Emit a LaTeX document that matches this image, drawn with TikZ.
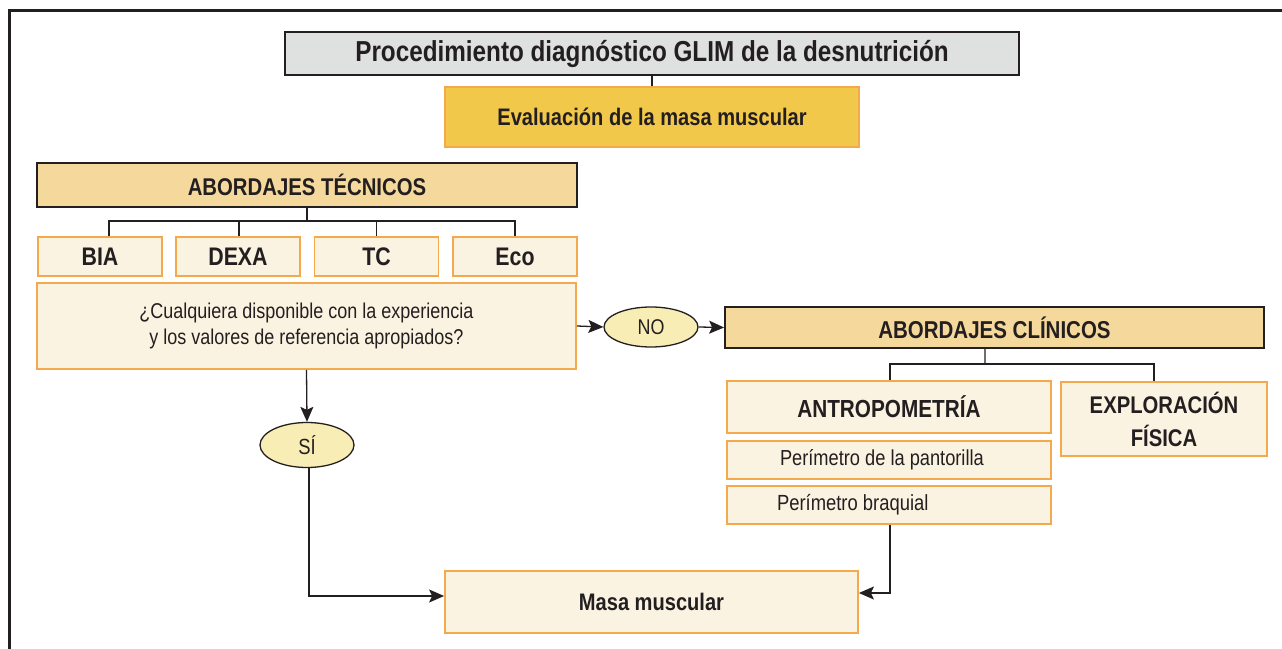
\documentclass[tikz,border=0pt]{standalone}
\usepackage{fontspec}
\setmainfont[FakeStretch=0.84]{Liberation Sans}
\usetikzlibrary{arrows.meta,shapes.geometric}
\definecolor{ink}{HTML}{231F20}
\definecolor{grayfill}{HTML}{DFE1E0}
\definecolor{evalfill}{HTML}{F2C84B}
\definecolor{tanfill}{HTML}{F5D89C}
\definecolor{creamfill}{HTML}{FBF3E1}
\definecolor{orangeline}{HTML}{F4A94C}
\definecolor{ovalfill}{HTML}{F8EDB4}
\tikzset{
  darkbox/.style={draw=ink, line width=1.8bp, rectangle, inner sep=0pt, text=ink, font=\bfseries},
  orbox/.style={draw=orangeline, line width=1.8bp, rectangle, fill=creamfill, inner sep=0pt, text=ink},
  oval/.style={draw=ink, line width=1.3bp, ellipse, fill=ovalfill, inner sep=0pt, text=ink},
  conn/.style={draw=ink, line width=1.3bp},
  arr/.style={conn, -{Stealth[length=15bp,width=13bp,inset=3bp]}},
}
\begin{document}
\begin{tikzpicture}[x=1bp,y=-1bp]
\useasboundingbox (0,0) rectangle (1282,649);
\draw[ink, line width=3bp] (9,649) -- (9,11) -- (1282,11);

\node[darkbox, fill=grayfill, minimum width=734bp, minimum height=43bp, font=\bfseries\fontsize{29}{31}\selectfont] (title) at (652,53.5) {Procedimiento diagnóstico GLIM de la desnutrición};
\node[orbox, fill=evalfill, minimum width=414bp, minimum height=60bp, font=\bfseries\fontsize{24}{26}\selectfont] (eval) at (652,117) {Evaluación de la masa muscular};

\node[darkbox, fill=tanfill, minimum width=540bp, minimum height=44bp, font=\bfseries\fontsize{24.3}{26}\selectfont] (tec) at (307,185) {ABORDAJES TÉCNICOS};
\node[orbox, minimum width=124bp, minimum height=39bp, font=\bfseries\fontsize{25.5}{27}\selectfont] (bia) at (100,256.5) {BIA};
\node[orbox, minimum width=124bp, minimum height=39bp, font=\bfseries\fontsize{25.5}{27}\selectfont] (dexa) at (238,256.5) {\raisebox{-2bp}{DEXA}};
\node[orbox, minimum width=124bp, minimum height=39bp, font=\bfseries\fontsize{25.5}{27}\selectfont] (tc) at (376.5,256.5) {TC};
\node[orbox, minimum width=124bp, minimum height=39bp, font=\bfseries\fontsize{25.5}{27}\selectfont] (eco) at (515,256.5) {Eco};
\node[orbox, minimum width=539bp, minimum height=86bp, align=center, font=\fontsize{21.5}{27}\selectfont] (q) at (306.5,326) {¿Cualquiera disponible con la experiencia\\y los valores de referencia apropiados?};

\node[oval, minimum width=94bp, minimum height=40bp, font=\fontsize{21.4}{23}\selectfont] (no) at (651,327) {NO};
\node[darkbox, fill=tanfill, minimum width=539bp, minimum height=41bp, font=\bfseries\fontsize{24.5}{26}\selectfont] (clin) at (994.5,327.5) {ABORDAJES CLÍNICOS};
\node[orbox, minimum width=324bp, minimum height=52bp, font=\bfseries\fontsize{24.8}{26}\selectfont] (antro) at (889,407) {ANTROPOMETRÍA};
\node[orbox, minimum width=206bp, minimum height=74bp, align=center, font=\bfseries\fontsize{24.2}{33}\selectfont] (expl) at (1164,419) {EXPLORACIÓN\\FÍSICA};
\node[orbox, minimum width=324bp, minimum height=38bp, font=\fontsize{21.8}{23}\selectfont] (pant) at (889,460) {\makebox[324bp][l]{\hspace{53bp}Perímetro de la pantorilla}};
\node[orbox, minimum width=324bp, minimum height=38bp, font=\fontsize{22}{23}\selectfont] (braq) at (889,505) {\makebox[324bp][l]{\hspace{50bp}Perímetro braquial}};

\node[oval, minimum width=94bp, minimum height=45bp, font=\fontsize{22}{24}\selectfont] (si) at (307,445) {SÍ};
\node[orbox, minimum width=413bp, minimum height=62bp, font=\bfseries\fontsize{24}{26}\selectfont] (masa) at (651.5,602) {Masa muscular};

% connectors
\draw[conn] (title.south) -- (eval.north);
\coordinate (jt) at (307,221);
\draw[conn] (tec.south) -- (jt);
\draw[conn] (jt) -| ([xshift=9bp]bia.north);
\draw[conn] (jt) -| ([xshift=1bp]dexa.north);
\draw[conn] (jt) -| (tc.north);
\draw[conn] (jt) -| (eco.north);
\draw[arr] (q.east) -- (no.west);
\draw[arr] (no.east) -- (clin.west);
\coordinate (jc) at (985,364);
\draw[conn] ([xshift=-9.5bp]clin.south) -- (jc);
\draw[conn] (jc) -| ([xshift=1bp]antro.north);
\draw[conn] (jc) -| ([xshift=-10bp]expl.north);
\draw[arr] (q.south) -- (si.north);
\draw[arr] ([xshift=2bp]si.south) |- ([yshift=6bp]masa.west);
\draw[arr] ([xshift=1bp]braq.south) |- ([yshift=9bp]masa.east);
\end{tikzpicture}
\end{document}
